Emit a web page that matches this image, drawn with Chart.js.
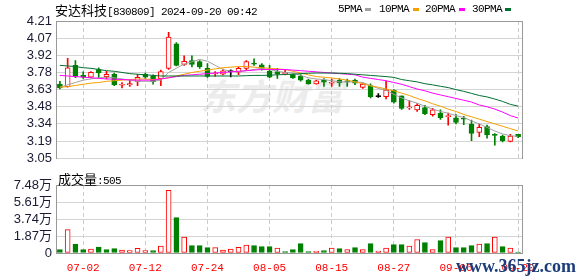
<!DOCTYPE html>
<html><head><meta charset="utf-8">
<script src="https://cdn.jsdelivr.net/npm/chart.js@4.4.1/dist/chart.umd.min.js"></script>
<style>
html,body{margin:0;padding:0;background:#fff;}
body{width:578px;height:276px;position:relative;overflow:hidden;}
canvas{position:absolute;left:0;z-index:1;}
#c1{top:0;} #c2{top:170px;}
.t{position:absolute;white-space:nowrap;color:#000;z-index:2;line-height:1;}
.m{font-family:"Liberation Mono",monospace;font-size:11px;letter-spacing:-0.6px;}
.k{font-family:"Noto Sans CJK SC";font-size:13px;}
.sq{position:absolute;width:6px;height:3px;z-index:2;}
</style></head><body>
<div class="t" style="left:200px;top:68px;font:bold 36px 'Noto Sans CJK SC';color:#ececec;z-index:0;font-style:italic;">东方财富</div>
<canvas id="c1" width="578" height="170"></canvas>
<canvas id="c2" width="578" height="106"></canvas>
<div class="t" style="left:55px;top:2px;"><span class="k">安达科技</span><span class="m">[830809] 2024-09-20 09:42</span></div>
<div class="t m" style="left:338px;top:4px;">5PMA</div><div class="sq" style="left:365px;top:8px;background:#a0a0a0"></div>
<div class="t m" style="left:379px;top:4px;">10PMA</div><div class="sq" style="left:413px;top:8px;background:#f5a000"></div>
<div class="t m" style="left:425px;top:4px;">20PMA</div><div class="sq" style="left:459px;top:8px;background:#ff00ff"></div>
<div class="t m" style="left:472px;top:4px;">30PMA</div><div class="sq" style="left:505px;top:8px;background:#007030"></div>
<div class="t" style="left:58px;top:171px;"><span class="k">成交量</span><span class="m">:505</span></div>
<div class="t" style="left:456px;top:256px;font:bold 18px 'Liberation Serif';color:#1c3d7a;">www.365jz.com</div>
<script>
const dates = ['06-27','06-28','07-01','07-02','07-03','07-04','07-05','07-08','07-09','07-10','07-11','07-12','07-15','07-16','07-17','07-18','07-19','07-22','07-23','07-24','07-25','07-26','07-29','07-30','07-31','08-01','08-02','08-05','08-06','08-07','08-08','08-09','08-12','08-13','08-14','08-15','08-16','08-19','08-20','08-21','08-22','08-23','08-26','08-27','08-28','08-29','08-30','09-02','09-03','09-04','09-05','09-06','09-09','09-10','09-11','09-12','09-13','09-18','09-19','09-20'];
const xTickLabels = ['07-02','07-12','07-24','08-05','08-15','08-27','09-06','09-20'];
const opens = [3.676,3.655,3.835,3.75,3.735,3.80,3.74,3.76,3.667,3.67,3.70,3.76,3.742,3.723,3.81,4.016,3.843,3.875,3.867,3.81,3.762,3.76,3.782,3.777,3.81,3.85,3.84,3.787,3.782,3.762,3.756,3.745,3.71,3.679,3.71,3.684,3.71,3.697,3.708,3.649,3.665,3.57,3.57,3.623,3.578,3.475,3.458,3.479,3.418,3.432,3.402,3.392,3.384,3.339,3.267,3.317,3.248,3.238,3.192,3.251];
const highs = [3.70,3.894,3.875,3.78,3.782,3.814,3.785,3.77,3.69,3.715,3.76,3.769,3.755,3.795,4.114,4.027,3.915,3.915,3.875,3.85,3.782,3.803,3.798,3.822,3.875,3.89,3.85,3.835,3.809,3.795,3.764,3.756,3.718,3.71,3.724,3.718,3.724,3.718,3.718,3.684,3.679,3.596,3.703,3.631,3.578,3.538,3.511,3.498,3.471,3.458,3.432,3.418,3.405,3.373,3.339,3.331,3.259,3.246,3.251,3.251];
const lows = [3.636,3.65,3.73,3.725,3.73,3.73,3.72,3.663,3.645,3.657,3.663,3.724,3.676,3.663,3.80,3.83,3.835,3.822,3.809,3.734,3.742,3.755,3.737,3.756,3.795,3.835,3.795,3.73,3.724,3.755,3.724,3.702,3.676,3.676,3.657,3.657,3.657,3.657,3.671,3.639,3.559,3.564,3.551,3.516,3.463,3.463,3.445,3.418,3.405,3.378,3.33,3.339,3.333,3.198,3.232,3.219,3.16,3.187,3.187,3.224];
const closes = [3.644,3.814,3.742,3.735,3.775,3.77,3.76,3.67,3.672,3.68,3.733,3.735,3.697,3.782,4.075,3.835,3.87,3.843,3.822,3.742,3.77,3.788,3.782,3.81,3.867,3.845,3.81,3.735,3.762,3.777,3.729,3.71,3.679,3.705,3.692,3.692,3.689,3.695,3.684,3.676,3.57,3.57,3.625,3.524,3.471,3.48,3.498,3.426,3.458,3.392,3.405,3.352,3.381,3.259,3.312,3.246,3.243,3.198,3.238,3.232];
const ma5 = [3.65,3.67,3.69,3.71,3.72,3.73,3.735,3.73,3.72,3.71,3.70,3.70,3.70,3.71,3.775,3.81,3.845,3.865,3.885,3.87,3.835,3.80,3.785,3.78,3.79,3.80,3.81,3.80,3.785,3.775,3.77,3.75,3.73,3.72,3.715,3.705,3.695,3.695,3.695,3.69,3.665,3.64,3.625,3.59,3.56,3.535,3.515,3.49,3.465,3.445,3.43,3.41,3.395,3.365,3.34,3.31,3.28,3.255,3.24,3.235];
const ma10 = [3.65,3.655,3.665,3.675,3.685,3.69,3.70,3.705,3.71,3.715,3.72,3.72,3.715,3.72,3.73,3.745,3.76,3.775,3.785,3.795,3.805,3.815,3.82,3.825,3.825,3.82,3.815,3.81,3.805,3.80,3.785,3.77,3.755,3.74,3.735,3.728,3.72,3.71,3.695,3.68,3.662,3.65,3.635,3.62,3.60,3.58,3.555,3.535,3.51,3.49,3.465,3.445,3.42,3.40,3.38,3.36,3.34,3.32,3.30,3.28];
const ma20 = [3.75,3.745,3.74,3.735,3.73,3.725,3.72,3.718,3.715,3.712,3.71,3.71,3.71,3.72,3.73,3.74,3.75,3.755,3.76,3.765,3.77,3.775,3.78,3.785,3.79,3.795,3.80,3.80,3.80,3.80,3.795,3.79,3.785,3.78,3.775,3.77,3.765,3.76,3.755,3.735,3.725,3.715,3.705,3.69,3.675,3.655,3.635,3.62,3.60,3.585,3.57,3.555,3.54,3.525,3.50,3.485,3.465,3.44,3.41,3.39];
const ma30 = [3.835,3.83,3.825,3.815,3.81,3.80,3.79,3.785,3.775,3.765,3.76,3.755,3.75,3.745,3.745,3.745,3.745,3.745,3.745,3.745,3.745,3.745,3.745,3.745,3.748,3.75,3.75,3.752,3.755,3.758,3.76,3.765,3.768,3.77,3.77,3.77,3.768,3.765,3.76,3.755,3.75,3.745,3.74,3.733,3.715,3.705,3.695,3.68,3.67,3.658,3.647,3.63,3.615,3.598,3.58,3.568,3.55,3.53,3.505,3.49];
const volumes = [3700,25700,9900,3700,4400,6600,3700,4800,3300,2600,5100,2600,2600,7700,69000,38900,17600,8100,8100,5900,5900,3300,4400,6200,8800,8100,7000,7000,5500,1500,3700,10300,1500,2200,2600,5500,4800,3700,5900,3700,10300,2200,5500,9200,9200,7700,14700,11400,3700,13600,17600,5900,5900,8100,9900,10300,17600,7000,5500,505];
const volUp = [0,1,0,0,1,0,0,0,1,1,1,1,0,1,1,0,1,0,0,0,1,1,1,1,1,0,0,0,1,0,0,0,0,1,0,1,0,1,0,1,0,1,1,0,0,1,1,0,1,0,1,0,0,0,1,0,1,0,1,0];
const yTicks = [3.05,3.195,3.34,3.485,3.63,3.775,3.92,4.065,4.21];
const yTickLabels = ['3.05','3.19','3.34','3.48','3.63','3.78','3.92','4.07','4.21'];
const vTicks = [0,18700,37400,56100,74800];
const vTickLabels = ['0','1.87万','3.74万','5.61万','7.48万'];

const RED='#ff0000', GREEN='#008000', BLACK='#000000';
const cColor = opens.map((o,i)=> closes[i]>o?RED:(closes[i]<o?GREEN:BLACK));
const cFill = opens.map((o,i)=> closes[i]>o?'#ffffff':cColor[i]);
const bodies = opens.map((o,i)=>[Math.min(o,closes[i]),Math.max(o,closes[i])]);
const wicks = lows.map((l,i)=>[l,highs[i]]);
const vColor = volUp.map(u=>u?RED:GREEN);
const vFill = volUp.map(u=>u?'#ffffff':GREEN);
const tickSet = new Set(xTickLabels);
const gridX = (c)=> tickSet.has(dates[c.index])?'#cccccc':'rgba(0,0,0,0)';
const labelFont = {family:"'Liberation Sans','Noto Sans CJK SC'", size:13};
const labelColor = '#1a1a33';

function lineDs(label,data,color){return {type:'line',label,data,borderColor:color,borderWidth:1,pointRadius:0,tension:0,order:-1};}

new Chart(document.getElementById('c1'),{
  data:{labels:dates,datasets:[
    lineDs('30PMA',ma30,'#007030'),
    lineDs('20PMA',ma20,'#ff00ff'),
    lineDs('10PMA',ma10,'#f5a000'),
    lineDs('5PMA',ma5,'#a0a0a0'),
    {type:'bar',label:'body',data:bodies,backgroundColor:cFill,borderColor:cColor,borderWidth:1,borderSkipped:false,barThickness:5,grouped:false,minBarLength:1,order:1},
    {type:'bar',label:'wick',data:wicks,backgroundColor:cColor,borderWidth:0,barThickness:1,grouped:false,order:2}
  ]},
  options:{
    responsive:false,animation:false,devicePixelRatio:1,
    layout:{padding:{top:21,right:56,bottom:4,left:0}},
    plugins:{legend:{display:false},tooltip:{enabled:false}},
    scales:{
      x:{type:'category',offset:true,grid:{offset:false,drawTicks:false,color:gridX},border:{display:false,dash:[4,3]},ticks:{display:false,autoSkip:false},afterFit:s=>{s.height=0;}},
      y:{min:3.05,max:4.21,afterBuildTicks:s=>{s.ticks=yTicks.map(v=>({value:v}));},
         ticks:{autoSkip:false,callback:(v,i)=>yTickLabels[i],padding:4,font:labelFont,color:labelColor},
         grid:{drawTicks:false,color:c=>(c.index===yTicks.length-1)?'#999999':'#d4d4d4'},border:{color:'#999999'},afterFit:s=>{s.width=56;}},
      y2:{position:'right',ticks:{display:false},grid:{drawOnChartArea:false,drawTicks:false},border:{color:'#999999'},afterFit:s=>{s.width=0;}}
    }
  }
});

new Chart(document.getElementById('c2'),{
  data:{labels:dates,datasets:[
    {type:'bar',label:'vol',data:volumes,backgroundColor:vFill,borderColor:vColor,borderWidth:1,borderSkipped:false,barThickness:5,minBarLength:1}
  ]},
  options:{
    responsive:false,animation:false,devicePixelRatio:1,
    layout:{padding:{top:15,right:56,bottom:0,left:0}},
    plugins:{legend:{display:false},tooltip:{enabled:false}},
    scales:{
      x:{type:'category',offset:true,grid:{offset:false,drawTicks:false,color:gridX},border:{color:'#999999',dash:[4,3]},
         ticks:{autoSkip:false,maxRotation:0,padding:8,color:RED,font:{family:"'Liberation Mono'",size:11},callback:(v,i)=>tickSet.has(dates[i])?dates[i]:''},
         afterFit:s=>{s.height=23;}},
      y:{min:0,max:74800,afterBuildTicks:s=>{s.ticks=vTicks.map(v=>({value:v}));},
         ticks:{autoSkip:false,callback:(v,i)=>vTickLabels[i],padding:4,font:labelFont,color:labelColor},
         grid:{drawTicks:false,color:c=>(c.index===vTicks.length-1||c.index===0)?'#999999':'#d4d4d4'},border:{color:'#999999'},afterFit:s=>{s.width=56;}},
      y2:{position:'right',ticks:{display:false},grid:{drawOnChartArea:false,drawTicks:false},border:{color:'#999999'},afterFit:s=>{s.width=0;}}
    }
  }
});
</script>
</body></html>
